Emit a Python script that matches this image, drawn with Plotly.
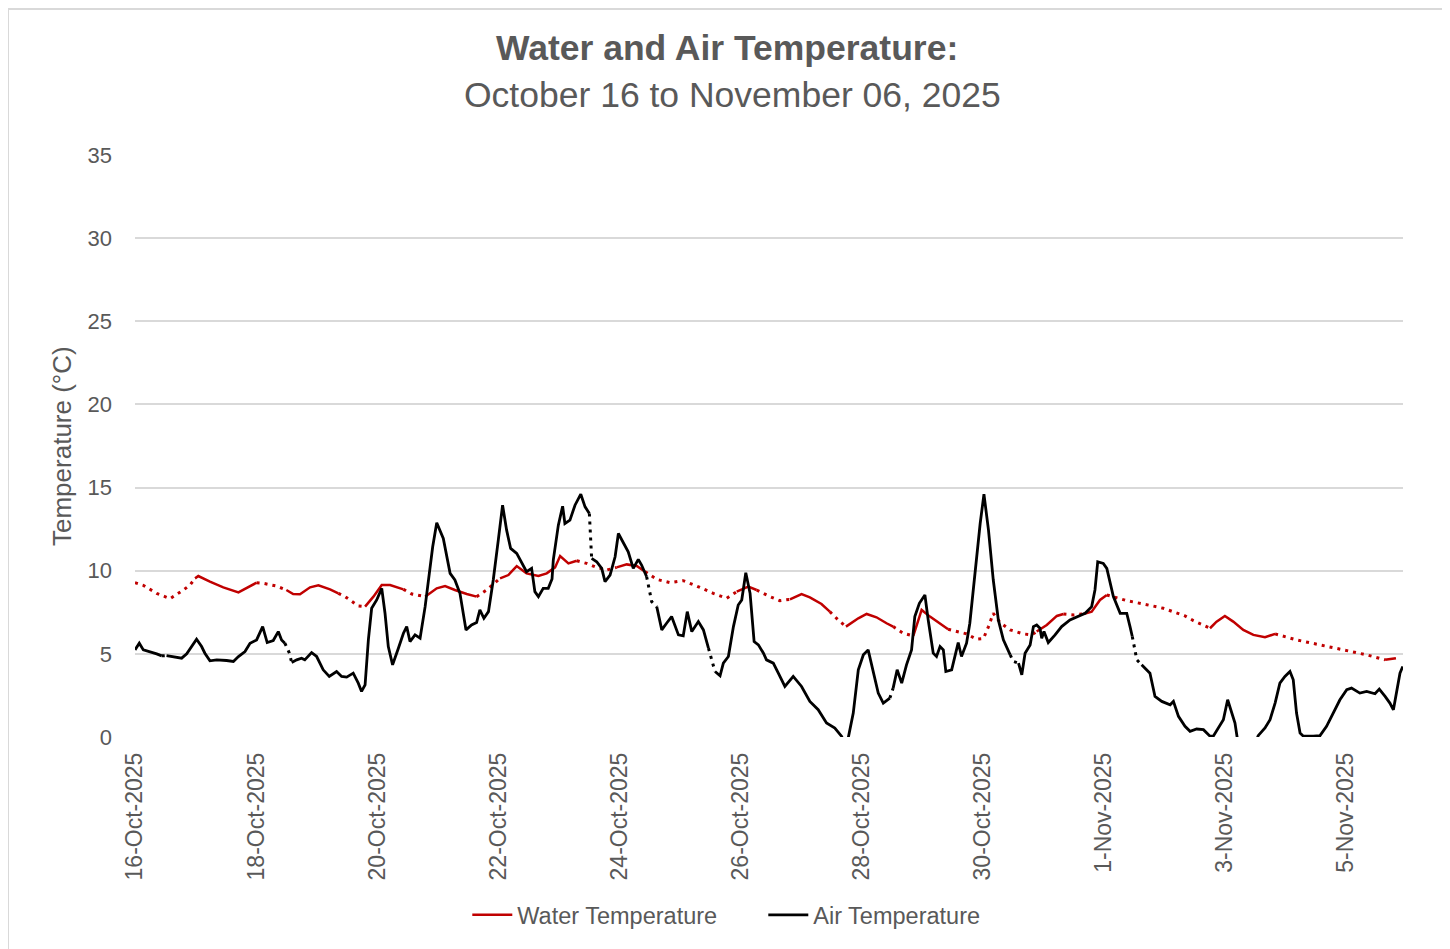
import pandas as pd
import plotly.graph_objects as go

# ---------------- data (hours since 2025-10-16 00:00) ----------------
start_date = "2025-10-16"

water_hours = [0, 3.3, 8.6, 13.9, 19.2, 21.8, 23.8, 25.1, 29.7, 35, 41, 44.9, 48.2, 50.9, 56, 60, 62.7, 65.4,
               69.4, 72.7, 77.3, 80.6, 83.2, 85.2, 88.5, 91.2, 94.5, 97.8, 101.1, 106.4, 109.7, 115, 119.6,
               122.9, 126.8, 131.5, 135.4, 139.4, 144.7, 148, 151.3, 155.2, 159.9, 163.2, 166.5, 168.5,
               171.8, 175.1, 179, 182.3, 187, 190.9, 194.9, 198.9, 202.2, 206.8, 212.1, 217.3, 222.6,
               229.2, 234.5, 238.5, 243.1, 246.4, 251.7, 255.6, 259.6, 264.2, 267.5, 272.1, 275.4, 278.7,
               281.8, 286.7, 290, 293.9, 297.9, 300.5, 304.5, 308.5, 311.8, 315.1, 319.1, 322.3, 325.7,
               329.6, 333.6, 336.3, 338.3, 340.2, 342.9, 346.9, 352.1, 355.4, 357.4, 361.4, 365.4, 368,
               372, 375.9, 379.2, 382.5, 385.2, 387.8, 393.1, 399.7, 407.6, 416.2, 419.5, 426.1, 428.7,
               432, 435.3, 439.3, 443.3, 447.9, 451.9, 460.4, 469.7, 480.3, 488.2, 495.5, 499.8]
water_temp = [9.28, 9.12, 8.64, 8.32, 8.84, 9.14, 9.54, 9.68, 9.34, 9.0, 8.7, 9.04, 9.28, 9.24, 9.08, 8.84,
              8.6, 8.58, 9.0, 9.12, 8.88, 8.64, 8.45, 8.24, 7.88, 7.84, 8.44, 9.14, 9.14, 8.88, 8.6, 8.44,
              8.94, 9.08, 8.84, 8.6, 8.44, 8.84, 9.54, 9.74, 10.28, 9.84, 9.68, 9.84, 10.2, 10.88, 10.44,
              10.6, 10.44, 10.24, 10.04, 10.2, 10.38, 10.28, 9.94, 9.48, 9.28, 9.4, 9.08, 8.64, 8.34,
              8.74, 9.04, 8.84, 8.44, 8.2, 8.28, 8.6, 8.4, 8.0, 7.54, 7.04, 6.64, 7.14, 7.4, 7.2, 6.84,
              6.64, 6.24, 6.08, 7.64, 7.24, 6.84, 6.48, 6.34, 6.2, 5.88, 5.92, 6.64, 7.44, 6.88, 6.44,
              6.2, 6.14, 6.34, 6.74, 7.28, 7.4, 7.34, 7.4, 7.54, 8.24, 8.54, 8.44, 8.2, 8.0, 7.74, 7.28,
              7.0, 6.54, 6.94, 7.28, 6.94, 6.44, 6.14, 6.0, 6.2, 5.84, 5.54, 5.2, 4.94, 4.64, 4.74]
water_dotted_spans = [(0, 23.5), (48.5, 61), (79, 90), (106.5, 117), (135.4, 143.4), (176.4, 191),
                      (202, 239), (249, 261), (276, 284), (300.5, 310), (323, 357), (368, 377),
                      (386.5, 426), (452, 496)]

air_hours = [0, 1.7, 3.3, 5.9, 8.6, 10.6, 12.5, 15.2, 18.5, 20.5, 22.5, 24.4, 26.4, 27.7, 29.7, 32.4, 36.3,
             39, 41, 43.6, 45.6, 48.2, 50.6, 52.4, 54.8, 56.8, 58.1, 59.4, 61.2, 62.1, 64.1, 66, 67.3, 70,
             72, 74.6, 77, 79.9, 81.9, 83.9, 86.5, 88.5, 89.8, 91.2, 92.5, 93.8, 95.8, 97.8, 99.1, 100.4,
             102.1, 104.4, 106.4, 107.7, 109, 111, 113, 115, 116.9, 118, 119.6, 122.2, 124.9, 126.8,
             128.8, 130.1, 131.2, 133.4, 135.4, 136.7, 138.3, 140.1, 142, 144, 145.7, 147.3, 148.9,
             151.3, 153.3, 155.2, 157.2, 158.5, 159.9, 161.8, 163.8, 165.3, 165.8, 167.8, 169.5, 170.4,
             172.4, 174.4, 176.7, 178.4, 180.1, 181, 183, 185, 186.3, 188.3, 190.3, 191.6, 193.6, 195.5,
             197.5, 199.5, 200.8, 202.8, 204.8, 206.8, 208.8, 210.7, 212.7, 215.4, 217.3, 218.9, 220.7,
             223.3, 225.3, 227.3, 228.6, 229.9, 231.9, 233.2, 235.2, 237.2, 239.1, 240.5, 242.1, 243.8,
             245.4, 247.1, 249.1, 250.3, 253, 255, 257.6, 260.9, 264.2, 267.5, 270.8, 274.1, 277.4,
             280.1, 281.4, 282.7, 284.7, 286.7, 288.7, 290.6, 292.6, 294.6, 296.6, 299.2, 300.5, 302.1,
             303.9, 305.8, 307.8, 309.1, 310.9, 313.1, 314.4, 316.4, 317.7, 319.1, 320.4, 321.4, 323.7,
             324.3, 326.3, 327.6, 329.6, 330.9, 332.3, 333.6, 335, 336.5, 338.3, 340.2, 342.2, 344.2,
             346.9, 348.2, 350.2, 351.5, 352.8, 354.8, 356.1, 357.4, 358.7, 359.4, 360.3, 362, 364.7,
             367.3, 370.6, 373.3, 376.6, 379.2, 380.5, 381.6, 383.8, 385.2, 386.5, 387.8, 390.5, 393.1,
             394.4, 395.3, 397.1, 399, 402.3, 404.3, 407, 410.3, 411.6, 413.6, 416.2, 418.2, 420.8,
             423.5, 426.1, 427.4, 429.4, 431.4, 433.1, 434.7, 436, 436.9, 439, 442, 445.2, 447.9, 449.9,
             451.9, 453.8, 455.8, 457.8, 459.1, 460.4, 461.8, 463.1, 467, 469.7, 472.3, 475, 477.6,
             480.3, 482.2, 485.5, 488.2, 491.5, 493.2, 495.5, 497.4, 498.8, 500.1, 501.4, 502.5]
air_temp = [5.24, 5.64, 5.24, 5.14, 5.0, 4.88, 4.9, 4.84, 4.74, 5.0, 5.44, 5.88, 5.44, 5.04, 4.58, 4.64,
            4.6, 4.54, 4.84, 5.14, 5.64, 5.84, 6.64, 5.68, 5.8, 6.34, 5.84, 5.64, 5.04, 4.48, 4.64, 4.74,
            4.64, 5.08, 4.84, 4.04, 3.64, 3.94, 3.64, 3.6, 3.84, 3.24, 2.74, 3.14, 5.84, 7.74, 8.24,
            8.94, 7.44, 5.44, 4.34, 5.34, 6.24, 6.64, 5.74, 6.14, 5.94, 7.84, 10.24, 11.44, 12.88,
            11.94, 9.84, 9.44, 8.64, 7.34, 6.44, 6.74, 6.88, 7.64, 7.14, 7.54, 9.44, 11.84, 13.94,
            12.44, 11.34, 11.04, 10.44, 9.94, 10.14, 8.74, 8.44, 8.94, 8.94, 9.5, 10.64, 12.74, 13.88,
            12.84, 13.04, 13.94, 14.6, 13.84, 13.44, 10.74, 10.54, 10.14, 9.34, 9.74, 10.84, 12.24,
            11.64, 11.14, 10.14, 10.68, 10.34, 9.64, 8.14, 7.84, 6.44, 6.84, 7.24, 6.14, 6.08, 7.54,
            6.34, 6.94, 6.44, 5.34, 4.64, 3.94, 3.68, 4.44, 4.84, 6.64, 7.94, 8.24, 9.88, 8.64, 5.74,
            5.54, 5.04, 4.64, 4.44, 3.84, 3.04, 3.64, 3.04, 2.14, 1.64, 0.84, 0.54, 0.04, -0.5, -0.06,
            1.44, 4.04, 4.94, 5.24, 3.84, 2.64, 2.04, 2.34, 2.94, 4.04, 3.24, 4.34, 5.24, 7.24, 8.04,
            8.54, 7.04, 5.04, 4.84, 5.44, 5.24, 3.94, 4.04, 4.44, 5.68, 4.84, 5.64, 6.84, 8.84, 11.04,
            12.84, 14.6, 12.44, 9.44, 7.04, 5.84, 4.94, 4.54, 4.44, 3.74, 5.04, 5.54, 6.64, 6.74,
            6.54, 5.94, 6.34, 5.68, 6.14, 6.64, 7.04, 7.24, 7.44, 7.84, 8.84, 10.54, 10.44, 10.14,
            9.24, 8.44, 7.44, 7.44, 6.64, 6.04, 4.64, 4.34, 3.84, 2.44, 2.14, 1.94, 2.14, 1.24, 0.64,
            0.34, 0.48, 0.44, 0.05, 0.05, 0.54, 1.04, 2.24, 1.44, 0.84, -0.06, -1.0, -1.2, 0.08, 0.54,
            1.04, 2.04, 3.24, 3.64, 3.94, 3.44, 1.44, 0.24, 0.05, 0.05, 0.08, 0.64, 1.44, 2.24, 2.84,
            2.94, 2.64, 2.74, 2.6, 2.88, 2.44, 2.04, 1.64, 2.64, 3.84, 4.24]
air_dotted_spans = [(10.6, 12.5), (59.4, 62.1), (180.1, 181), (202.8, 206), (227.3, 229.9),
                    (299.2, 300.5), (346.9, 350.2), (395.3, 399)]

tick_days = ["2025-10-16", "2025-10-18", "2025-10-20", "2025-10-22", "2025-10-24", "2025-10-26",
             "2025-10-28", "2025-10-30", "2025-11-01", "2025-11-03", "2025-11-05"]
y_ticks = [0, 5, 10, 15, 20, 25, 30, 35]
x_end_hour = 502.6

# ---------------- helpers ----------------
base = pd.Timestamp(start_date)


def to_time(h):
    return None if h is None else (base + pd.Timedelta(hours=h)).strftime("%Y-%m-%d %H:%M:%S")


def split_segments(hours, vals, spans):
    out = {"solid": ([], []), "dotted": ([], [])}
    last = {"solid": None, "dotted": None}
    for i in range(len(hours) - 1):
        mid = (hours[i] + hours[i + 1]) / 2
        key = "dotted" if any(a <= mid <= b for a, b in spans) else "solid"
        xs, ys = out[key]
        if last[key] != i:
            if xs:
                xs.append(None)
                ys.append(None)
            xs.append(to_time(hours[i]))
            ys.append(vals[i])
        xs.append(to_time(hours[i + 1]))
        ys.append(vals[i + 1])
        last[key] = i + 1
    return out


TEXT = "#595959"
FONT = "Liberation Sans, Arial, sans-serif"

fig = go.Figure()
for name, hrs, vals, spans, color, w in [
    ("Water Temperature", water_hours, water_temp, water_dotted_spans, "#C00000", 2.5),
    ("Air Temperature", air_hours, air_temp, air_dotted_spans, "#000000", 2.8),
]:
    seg = split_segments(hrs, vals, spans)
    fig.add_trace(go.Scatter(x=seg["solid"][0], y=seg["solid"][1], mode="lines", name=name,
                             line=dict(color=color, width=w), connectgaps=False, legendgroup=name))
    fig.add_trace(go.Scatter(x=seg["dotted"][0], y=seg["dotted"][1], mode="lines", name=name,
                             line=dict(color=color, width=3, dash="3px,5px"), connectgaps=False,
                             showlegend=False, legendgroup=name))

# page body adds an 8px offset; margins compensate so the plot area lands at x 135-1403, y 155-737
fig.update_layout(
    width=1450, height=949,
    margin=dict(l=127, r=55, t=147, b=220),
    paper_bgcolor="white", plot_bgcolor="white",
    font=dict(family=FONT, color=TEXT, size=23),
    showlegend=True,
    legend=dict(orientation="h", x=0.4955, y=-0.306, xanchor="center", yanchor="middle",
                font=dict(size=23.5, color=TEXT), itemwidth=40, traceorder="normal",
                entrywidth=241, entrywidthmode="pixels"),
)
fig.update_xaxes(
    type="date",
    range=[to_time(0), to_time(x_end_hour)],
    tickvals=[d for d in tick_days],
    ticktext=[pd.Timestamp(d).strftime("%-d-%b-%Y") for d in tick_days],
    tickangle=-90, showgrid=False, zeroline=False, showline=False, ticks="",
    tickfont=dict(size=23, color=TEXT), ticklabelstandoff=10,
)
fig.update_yaxes(
    range=[0, 35], tickvals=y_ticks, showgrid=True, gridcolor="#d9d9d9", gridwidth=2,
    zeroline=False, showline=False, ticks="", tickfont=dict(size=22, color=TEXT),
    ticklabelstandoff=22,
)

fig.add_annotation(text="<b>Water and Air Temperature:</b>", xref="paper", yref="paper",
                   x=(727 - 135) / 1268, y=(737 - 48) / 582, showarrow=False,
                   font=dict(size=35.5, color=TEXT), xanchor="center", yanchor="middle")
fig.add_annotation(text="October 16 to November 06, 2025", xref="paper", yref="paper",
                   x=(732 - 135) / 1268, y=(737 - 95) / 582, showarrow=False,
                   font=dict(size=35.5, color=TEXT), xanchor="center", yanchor="middle")
fig.add_annotation(text="Temperature (°C)", xref="paper", yref="paper", textangle=-90,
                   x=(62 - 135) / 1268, y=(737 - 446) / 582, showarrow=False,
                   font=dict(size=26, color=TEXT), xanchor="center", yanchor="middle")
fig.add_shape(type="rect", xref="paper", yref="paper",
              x0=(8 - 135) / 1268, x1=(1445 - 135) / 1268,
              y0=(737 - 980) / 582, y1=(737 - 9) / 582,
              line=dict(color="#d9d9d9", width=2), layer="below")

fig.write_html("out.html")
